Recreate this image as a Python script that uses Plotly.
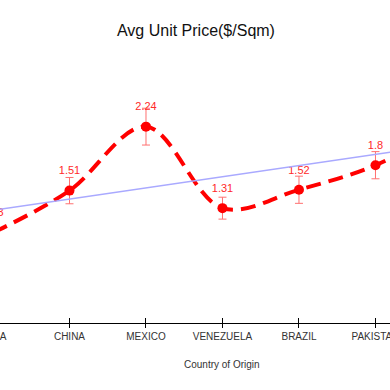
import numpy as np
import plotly.graph_objects as go

categories = ["INDIA", "CHINA", "MEXICO", "VENEZUELA", "BRAZIL", "PAKISTAN", "TURKEY"]
avg_price = [1.03, 1.51, 2.24, 1.31, 1.52, 1.80, 2.27]
price_err = [0.15, 0.15, 0.21, 0.125, 0.155, 0.155, 0.15]
labels = ["1.03", "1.51", "2.24", "1.31", "1.52", "1.8", "2.27"]

# linear trendline over the category index
idx = np.arange(len(categories))
slope, intercept = np.polyfit(idx, avg_price, 1)
trend = (slope * idx + intercept).tolist()

fig = go.Figure()

fig.add_trace(go.Scatter(
    x=categories, y=trend, mode="lines", xaxis="x2",
    line=dict(color="#a9a9ff", width=1.5),
    hoverinfo="skip", showlegend=False,
))

fig.add_trace(go.Scatter(
    x=categories, y=avg_price, mode="lines+markers",
    line=dict(color="#ff0000", width=4, dash="15px,8px", shape="spline"),
    marker=dict(color="#ff0000", size=10),
    error_y=dict(type="data", array=price_err, visible=True,
                 color="#ff7070", thickness=1, width=4),
    showlegend=False,
))

fig.add_trace(go.Scatter(
    x=categories, y=avg_price, mode="markers+text",
    text=labels, textposition="top center",
    textfont=dict(family="Liberation Sans, Arial", size=11, color="#ff2a2a"),
    marker=dict(color="rgba(0,0,0,0)", size=20),
    cliponaxis=False, hoverinfo="skip", showlegend=False,
))

fig.update_layout(
    width=420, height=390,
    margin=dict(l=0, r=0, t=60, b=67),
    paper_bgcolor="white", plot_bgcolor="white",
    title=dict(text="Avg Unit Price($/Sqm)", x=0.538, xanchor="center", y=0.923, yanchor="middle",
               font=dict(family="Liberation Sans, Arial", size=16, color="#111111")),
    font=dict(family="Liberation Sans, Arial", size=10, color="#333333"),
    xaxis=dict(
        type="category", range=[-0.3007, 5.19],
        showline=True, linecolor="#000000", linewidth=1,
        ticks="outside", ticklen=4, tickcolor="#000000",
        showgrid=False, zeroline=False,
        tickfont=dict(size=10, color="#333333"),
        automargin=False,
    ),
    xaxis2=dict(
        type="category", matches="x", overlaying="x", anchor="y", side="bottom",
        ticks="inside", ticklen=5, tickcolor="#000000",
        showticklabels=False, showline=False, showgrid=False, zeroline=False,
        automargin=False,
    ),
    yaxis=dict(range=[0, 3], visible=False, showgrid=False, zeroline=False),
    annotations=[dict(
        text="Country of Origin", xref="paper", yref="paper",
        x=0.6, y=-0.156, xanchor="center", yanchor="middle", showarrow=False,
        font=dict(family="Liberation Sans, Arial", size=10, color="#333333"),
    )],
)

fig.write_html("out.html", config={"displayModeBar": False},
               post_script="document.body.style.margin='0 0 0 -30px';")
